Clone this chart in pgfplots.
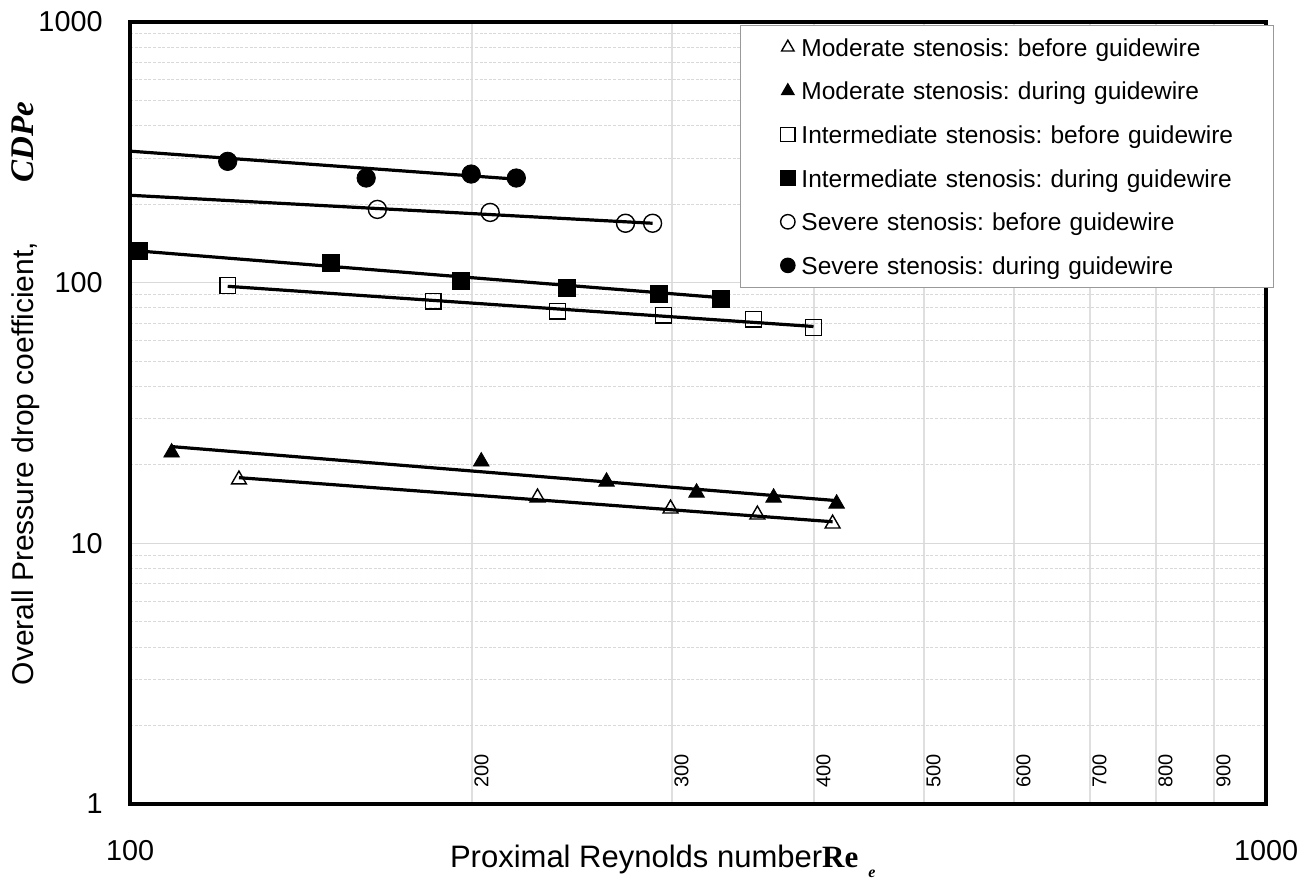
\documentclass[border=0pt]{standalone}
\usepackage{pgfplots}
\pgfplotsset{compat=1.18}
\usepackage{fontspec}
\setmainfont{Liberation Sans}
\newfontfamily\serif{Liberation Serif}
\frenchspacing

\pgfplotsset{
  mylegend/.style={legend image code/.code={%
    \draw[##1,mark size=3.6pt] plot coordinates {(0pt,0pt)};
    \path (-23.5pt,0pt) (6.5pt,0pt);}},
  openmark/.style={only marks, mark options={solid, draw=black, line width=0.7pt}, mylegend},
  fullmark/.style={only marks, mark options={solid, draw=black, fill=black}, mylegend},
  trend/.style={black, line width=1.6pt, no marks, forget plot},
}

\begin{document}
\begin{tikzpicture}
\begin{axis}[
  scale only axis,
  width=568pt, height=391pt,
  xmode=log, ymode=log,
  xmin=100, xmax=1000, ymin=1, ymax=1000,
  xtick={100,1000}, xticklabels={100,1000},
  ytick={1,10,100,1000}, yticklabels={1,10,100,1000},
  minor xtick={200,300,400,500,600,700,800,900},
  minor ytick={2,3,4,5,6,7,8,9,20,30,40,50,60,70,80,90,200,300,400,500,600,700,800,900},
  major tick length=0pt, minor tick length=0pt,
  grid=both,
  major grid style={gray!30, line width=0.6pt},
  minor x grid style={gray!25, line width=0.6pt},
  minor y grid style={gray!30, line width=0.5pt, dash pattern=on 1.5pt off 0.8pt},
  axis line style={line width=2pt, black},
  tick label style={font=\fontsize{14.4}{16}\selectfont},
  xticklabel style={yshift=-14.7pt},
  yticklabel style={xshift=-10.2pt},
  xlabel={Proximal Reynolds number{\serif\bfseries\fontsize{15.5}{17}\selectfont Re}\hspace{5pt}\raisebox{-5pt}{\serif\bfseries\itshape\fontsize{8}{9}\selectfont e}},
  xlabel style={at={(rel axis cs:0.2755,-0.0818)}, anchor=base west, font=\fontsize{15.5}{18}\selectfont},
  ylabel={Overall Pressure drop coefficient,\hspace{30pt}{\serif\bfseries\itshape\fontsize{16.5}{18}\selectfont CDPe}},
  ylabel style={at={(rel axis cs:-0.0854,0.143)}, anchor=base west, font=\fontsize{15}{18}\selectfont},
  clip mode=individual,
  legend style={at={(rel axis cs:1,1)}, anchor=north east, xshift=4pt, yshift=-1.5pt,
    draw=gray!80, line width=0.6pt, fill=white, inner sep=0pt, row sep=0pt, column sep=0pt,
    font=\fontsize{12.25}{14}\selectfont,
    nodes={inner sep=0pt, text height=15.4pt, text depth=6.4pt, text width=236pt, align=left}},
  legend cell align=left,
]
% trend lines
\addplot[trend] coordinates {(100,319.5) (218.8,249.5)};
\addplot[trend] coordinates {(100,216.4) (288.4,169)};
\addplot[trend] coordinates {(100,133.1) (331,87.6)};
\addplot[trend] coordinates {(121.9,96.8) (399.7,67.9)};
\addplot[trend] coordinates {(108.8,23.5) (418.8,14.58)};
\addplot[trend] coordinates {(124.7,17.86) (415.4,12.1)};

% Moderate before
\addplot[openmark, mark=triangle, mark size=4.3pt] coordinates {
  (124.7,17.55) (228.4,14.97) (299.1,13.58) (356.7,12.88) (415.4,11.89)};
\addlegendentry{Moderate stenosis: before guidewire}
% Moderate during
\addplot[fullmark, mark=triangle*, mark size=4.5pt] coordinates {
  (108.8,22.3) (203.8,20.6) (262.7,17.24) (315.3,15.65) (368.6,14.97) (418.8,14.2)};
\addlegendentry{Moderate stenosis: during guidewire}
% Intermediate before
\addplot[openmark, mark=square, mark size=3.9pt] coordinates {
  (121.9,97.6) (184.9,84.8) (237.8,77.6) (294.9,74.9) (353.9,72.3) (399.7,67.3)};
\addlegendentry{Intermediate stenosis: before guidewire}
% Intermediate during
\addplot[fullmark, mark=square*, mark size=4.25pt] coordinates {
  (101.8,131.9) (150.3,118.6) (195.7,101.2) (242.6,95.1) (291.9,90.9) (331.0,87.0)};
\addlegendentry{Intermediate stenosis: during guidewire}
% Severe before
\addplot[openmark, mark=o, mark size=4.5pt] coordinates {
  (165.1,191) (207.5,186) (273.0,169) (288.4,169)};
\addlegendentry{Severe stenosis: before guidewire}
% Severe during
\addplot[fullmark, mark=*, mark size=4.6pt] coordinates {
  (121.9,292) (161.4,252) (199.7,261) (218.8,252)};
\addlegendentry{Severe stenosis: during guidewire}

% labels of the minor x ticks
\node[rotate=90, anchor=north west, inner sep=1pt, font=\fontsize{10}{12}\selectfont] at (axis cs:200,1.13) {200};
\node[rotate=90, anchor=north west, inner sep=1pt, font=\fontsize{10}{12}\selectfont] at (axis cs:300,1.13) {300};
\node[rotate=90, anchor=north west, inner sep=1pt, font=\fontsize{10}{12}\selectfont] at (axis cs:400,1.13) {400};
\node[rotate=90, anchor=north west, inner sep=1pt, font=\fontsize{10}{12}\selectfont] at (axis cs:500,1.13) {500};
\node[rotate=90, anchor=north west, inner sep=1pt, font=\fontsize{10}{12}\selectfont] at (axis cs:600,1.13) {600};
\node[rotate=90, anchor=north west, inner sep=1pt, font=\fontsize{10}{12}\selectfont] at (axis cs:700,1.13) {700};
\node[rotate=90, anchor=north west, inner sep=1pt, font=\fontsize{10}{12}\selectfont] at (axis cs:800,1.13) {800};
\node[rotate=90, anchor=north west, inner sep=1pt, font=\fontsize{10}{12}\selectfont] at (axis cs:900,1.13) {900};
\end{axis}
\pgfresetboundingbox
\path ([shift={(-65pt,-39.5pt)}]current axis.south west) rectangle ([shift={(24.5pt,11pt)}]current axis.north east);
\end{tikzpicture}
\end{document}
